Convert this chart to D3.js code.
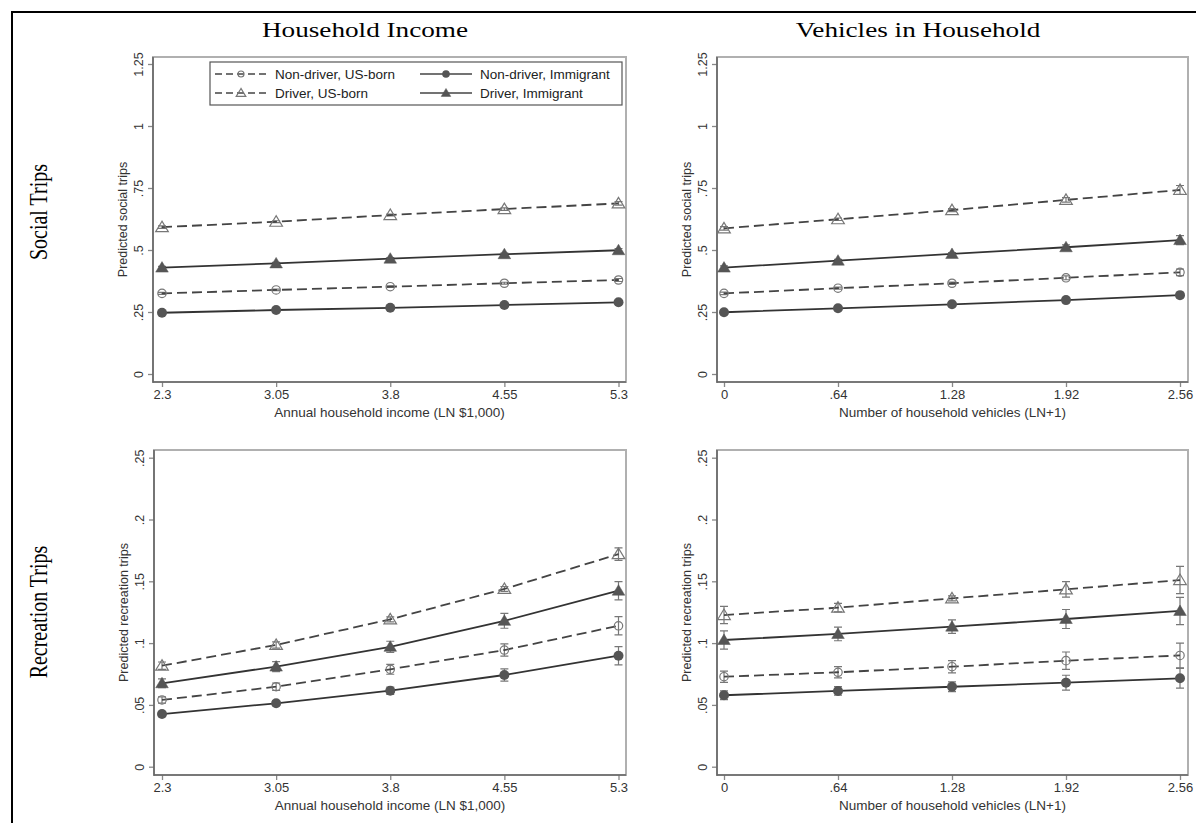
<!DOCTYPE html>
<html>
<head>
<meta charset="utf-8">
<script src="https://cdn.jsdelivr.net/npm/d3@7"></script>
<style>
  body { margin: 0; background: #fff; }
  svg { display: block; }
</style>
</head>
<body>
<script>
// series order: Non-driver US-born, Driver US-born, Non-driver Immigrant, Driver Immigrant
var seriesNames = ["Non-driver, US-born", "Driver, US-born", "Non-driver, Immigrant", "Driver, Immigrant"];
var incomeX = [2.3, 3.05, 3.8, 4.55, 5.3];
var vehicleX = [0, 0.64, 1.28, 1.92, 2.56];
var socialTicks = [0, 0.25, 0.5, 0.75, 1, 1.25];
var recTicks = [0, 0.05, 0.1, 0.15, 0.2, 0.25];

// social trips by income
var socialIncome = [
  [0.325, 0.339, 0.352, 0.366, 0.379],
  [0.592, 0.614, 0.641, 0.665, 0.688],
  [0.247, 0.258, 0.267, 0.278, 0.289],
  [0.429, 0.446, 0.465, 0.483, 0.499]
];
var socialIncomeErr = [
  [0.004, 0.003, 0.003, 0.004, 0.006],
  [0.005, 0.004, 0.004, 0.005, 0.007],
  [0.003, 0.003, 0.003, 0.003, 0.005],
  [0.005, 0.004, 0.004, 0.005, 0.007]
];
// social trips by vehicles
var socialVeh = [
  [0.325, 0.346, 0.366, 0.388, 0.410],
  [0.587, 0.624, 0.661, 0.702, 0.742],
  [0.249, 0.265, 0.281, 0.298, 0.318],
  [0.429, 0.457, 0.484, 0.511, 0.540]
];
var socialVehErr = [
  [0.005, 0.004, 0.005, 0.008, 0.013],
  [0.007, 0.005, 0.006, 0.009, 0.018],
  [0.004, 0.003, 0.004, 0.006, 0.010],
  [0.007, 0.005, 0.006, 0.010, 0.018]
];
// recreation trips by income
var recIncome = [
  [0.0540, 0.0647, 0.0788, 0.0944, 0.1140],
  [0.0817, 0.0985, 0.1192, 0.1438, 0.1720],
  [0.0426, 0.0513, 0.0615, 0.0742, 0.0898],
  [0.0675, 0.0810, 0.0970, 0.1180, 0.1424]
];
var recIncomeErr = [
  [0.0025, 0.0030, 0.0040, 0.0050, 0.0074],
  [0.0030, 0.0025, 0.0020, 0.0020, 0.0050],
  [0.0020, 0.0020, 0.0030, 0.0050, 0.0074],
  [0.0035, 0.0040, 0.0045, 0.0060, 0.0074]
];
// recreation trips by vehicles
var recVeh = [
  [0.0728, 0.0764, 0.0809, 0.0858, 0.0900],
  [0.1227, 0.1287, 0.1362, 0.1435, 0.1510],
  [0.0578, 0.0613, 0.0647, 0.0680, 0.0715],
  [0.1025, 0.1074, 0.1133, 0.1195, 0.1260]
];
var recVehErr = [
  [0.0045, 0.0045, 0.0050, 0.0070, 0.0100],
  [0.0070, 0.0035, 0.0020, 0.0063, 0.0110],
  [0.0035, 0.0035, 0.0040, 0.0060, 0.0080],
  [0.0074, 0.0055, 0.0055, 0.0077, 0.0110]
];

var W = 1196, H = 823;
var svg = d3.select("body").append("svg").attr("width", W).attr("height", H);

// outer frame (table borders)
svg.append("line").attr("x1", 12).attr("x2", W).attr("y1", 12).attr("y2", 12)
  .attr("stroke", "#000").attr("stroke-width", 2);
svg.append("line").attr("x1", 12).attr("x2", 12).attr("y1", 11).attr("y2", H)
  .attr("stroke", "#000").attr("stroke-width", 2);

var serif = "'Liberation Serif', 'Times New Roman', serif";
var sans = "'Liberation Sans', Arial, sans-serif";

// column titles (the source image is stretched sideways)
svg.append("text").attr("transform", "translate(365,37) scale(1.36,1)").attr("text-anchor", "middle")
  .attr("font-family", serif).attr("font-size", 20).text("Household Income");
svg.append("text").attr("transform", "translate(918,37) scale(1.36,1)").attr("text-anchor", "middle")
  .attr("font-family", serif).attr("font-size", 20).text("Vehicles in Household");

// row labels
[["Social Trips", 212], ["Recreation Trips", 612]].forEach(function(r) {
  svg.append("text").attr("transform", "translate(47," + r[1] + ") scale(1.3,1) rotate(-90)")
    .attr("text-anchor", "middle").attr("font-family", serif).attr("font-size", 20)
    .text(r[0]);
});

var fmt = function(d) { return d3.format("")(d).replace(/^0\./, "."); };

var styles = [
  { dash: "10,5", marker: "circle", filled: false },
  { dash: "10,5", marker: "triangle", filled: false },
  { dash: null, marker: "circle", filled: true },
  { dash: null, marker: "triangle", filled: true }
];

function drawMarker(g, type, filled, x, y, size) {
  var col = filled ? "#555" : "#777";
  if (type === "circle") {
    g.append("circle").attr("cx", x).attr("cy", y).attr("r", filled ? size : size - 0.8)
      .attr("fill", filled ? col : "none").attr("stroke", col).attr("stroke-width", filled ? 0 : 1.2);
  } else {
    var s = size * 1.2;
    var p = [[x, y - s], [x - s * 1.05, y + s * 0.75], [x + s * 1.05, y + s * 0.75]];
    g.append("path").attr("d", "M" + p.join("L") + "Z")
      .attr("fill", filled ? col : "none").attr("stroke", col).attr("stroke-width", filled ? 0.5 : 1.2);
  }
}

function panel(cfg) {
  var g = svg.append("g");
  var x = d3.scaleLinear().domain(d3.extent(cfg.xs)).range([cfg.x0, cfg.x1]);
  var y = d3.scaleLinear().domain([0, cfg.ticks[cfg.ticks.length - 1]]).range([cfg.yZero, cfg.yTop]);

  // plot box
  g.append("rect").attr("x", cfg.left).attr("y", cfg.top)
    .attr("width", cfg.right - cfg.left).attr("height", cfg.bottom - cfg.top)
    .attr("fill", "none").attr("stroke", "#b0b0b0").attr("stroke-width", 2);

  // axes
  var yAxis = d3.axisLeft(y).tickValues(cfg.ticks).tickFormat(fmt).tickSize(5);
  var ya = g.append("g").attr("transform", "translate(" + cfg.left + ",0)").call(yAxis);
  ya.select(".domain").remove();
  ya.selectAll("line").attr("stroke", "#888").attr("stroke-width", 1.3);
  ya.selectAll("text").attr("font-family", sans).attr("font-size", 12.5).attr("fill", "#333")
    .attr("text-anchor", "middle").attr("x", 0).attr("y", 0).attr("dy", null)
    .attr("transform", "translate(-10.5,0) rotate(-90)");

  var xAxis = d3.axisBottom(x).tickValues(cfg.xs).tickFormat(fmt).tickSize(5).tickPadding(3);
  var xa = g.append("g").attr("transform", "translate(0," + cfg.bottom + ")").call(xAxis);
  xa.select(".domain").remove();
  xa.selectAll("line").attr("stroke", "#888").attr("stroke-width", 1.3);
  xa.selectAll("text").attr("font-family", sans).attr("font-size", 13).attr("fill", "#333");

  g.append("line").attr("x1", cfg.left).attr("x2", cfg.left).attr("y1", cfg.top).attr("y2", cfg.bottom + 0.7)
    .attr("stroke", "#666").attr("stroke-width", 1.6);
  g.append("line").attr("x1", cfg.left).attr("x2", cfg.right).attr("y1", cfg.bottom).attr("y2", cfg.bottom)
    .attr("stroke", "#666").attr("stroke-width", 1.6);

  // axis titles
  g.append("text").attr("x", (cfg.left + cfg.right) / 2).attr("y", cfg.bottom + 35)
    .attr("text-anchor", "middle").attr("font-family", sans).attr("font-size", 13.5).attr("fill", "#333")
    .text(cfg.xTitle);
  g.append("text").attr("transform", "translate(" + (cfg.left - 26) + "," + ((cfg.top + cfg.bottom) / 2) + ") rotate(-90)")
    .attr("text-anchor", "middle").attr("font-family", sans).attr("font-size", 12.5).attr("fill", "#333")
    .text(cfg.yTitle);

  var line = d3.line().x(function(d) { return x(d[0]); }).y(function(d) { return y(d[1]); });

  cfg.vals.forEach(function(vals, i) {
    var st = styles[i];
    var pts = cfg.xs.map(function(xv, j) { return [xv, vals[j], cfg.errs[i][j]]; });
    // error bars
    pts.forEach(function(p) {
      var lo = y(p[1] - p[2]), hi = y(p[1] + p[2]), cx = x(p[0]);
      g.append("path").attr("d", "M" + (cx - 4) + "," + lo + "H" + (cx + 4) + "M" + cx + "," + lo + "V" + hi + "M" + (cx - 4) + "," + hi + "H" + (cx + 4))
        .attr("fill", "none").attr("stroke", "#777").attr("stroke-width", 1.2);
    });
    g.append("path").datum(pts).attr("d", line).attr("fill", "none")
      .attr("stroke", st.filled ? "#333" : "#444").attr("stroke-width", 1.8)
      .attr("stroke-dasharray", st.dash);
    pts.forEach(function(p) { drawMarker(g, st.marker, st.filled, x(p[0]), y(p[1]), 5); });
  });
}

var incomeTitle = "Annual household income (LN $1,000)";
var vehTitle = "Number of household vehicles (LN+1)";

panel({ xs: incomeX, ticks: socialTicks, vals: socialIncome, errs: socialIncomeErr,
  left: 153, right: 626, top: 57, bottom: 382, x0: 162, x1: 618.5, yZero: 374, yTop: 64,
  xTitle: incomeTitle, yTitle: "Predicted social trips" });
panel({ xs: vehicleX, ticks: socialTicks, vals: socialVeh, errs: socialVehErr,
  left: 717, right: 1188, top: 57, bottom: 382, x0: 724, x1: 1180, yZero: 374, yTop: 64,
  xTitle: vehTitle, yTitle: "Predicted social trips" });
panel({ xs: incomeX, ticks: recTicks, vals: recIncome, errs: recIncomeErr,
  left: 154, right: 626, top: 450, bottom: 775, x0: 162, x1: 618.5, yZero: 766.7, yTop: 457.7,
  xTitle: incomeTitle, yTitle: "Predicted recreation trips" });
panel({ xs: vehicleX, ticks: recTicks, vals: recVeh, errs: recVehErr,
  left: 717, right: 1188, top: 450, bottom: 775, x0: 724, x1: 1180, yZero: 766.7, yTop: 457.7,
  xTitle: vehTitle, yTitle: "Predicted recreation trips" });

// legend
var lg = svg.append("g");
lg.append("rect").attr("x", 210).attr("y", 62).attr("width", 412).attr("height", 43)
  .attr("fill", "#fff").attr("stroke", "#555").attr("stroke-width", 1.2);
var legendPos = [[215, 74], [215, 93], [420, 74], [420, 93]];
seriesNames.forEach(function(name, i) {
  var st = styles[i], p = legendPos[i];
  var len = 52;
  lg.append("line").attr("x1", p[0]).attr("x2", p[0] + len).attr("y1", p[1]).attr("y2", p[1])
    .attr("stroke", "#444").attr("stroke-width", 1.6).attr("stroke-dasharray", st.dash ? "7,4" : null);
  drawMarker(lg, st.marker, st.filled, p[0] + len / 2, p[1], 3.8);
  lg.append("text").attr("x", p[0] + 60).attr("y", p[1]).attr("dy", "0.35em")
    .attr("font-family", sans).attr("font-size", 13.5).attr("fill", "#222").text(name);
});
</script>
</body>
</html>
